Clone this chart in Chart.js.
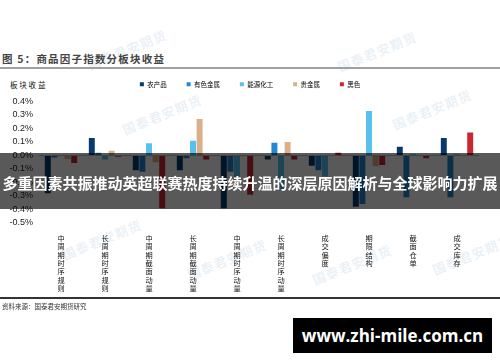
<!DOCTYPE html>
<html><head><meta charset="utf-8">
<script src="https://cdn.jsdelivr.net/npm/chart.js@4.4.1/dist/chart.umd.min.js"></script>
<style>
html,body{margin:0;padding:0;background:#fff;width:500px;height:362px;overflow:hidden;}
body{position:relative;font-family:"Noto Sans CJK SC","Noto Sans",sans-serif;}
.wm{position:absolute;font-size:13px;font-weight:bold;color:rgba(120,160,200,0.16);transform:rotate(-22deg);white-space:nowrap;letter-spacing:1px;}
#title{position:absolute;left:2px;top:51px;font-size:10.5px;font-weight:bold;color:#444;letter-spacing:1.2px;white-space:nowrap;}
#rule{position:absolute;left:0;top:67px;width:500px;height:2px;background:#a0a0a0;}
#ytitle{position:absolute;left:10px;top:79px;font-size:7.5px;letter-spacing:1.8px;color:#111;white-space:nowrap;}
#wrap{position:absolute;left:0;top:61px;width:500px;height:239px;}
#bottomrule{position:absolute;left:0;top:297px;width:500px;height:2px;background:#333;}
#source{position:absolute;left:2px;top:301px;font-size:6.5px;color:#333;white-space:nowrap;}
#band{position:absolute;left:0;top:153px;width:500px;height:56px;background:rgba(0,0,0,0.65);}
#bandtext{position:absolute;left:0;top:174px;width:500px;text-align:center;font-size:15px;font-weight:bold;color:#fff;white-space:nowrap;line-height:18px;}
#site{position:absolute;left:293px;top:318px;width:199px;height:35px;background:#000;color:#fff;font-family:"Open Sans",sans-serif;font-weight:bold;font-size:17px;line-height:35px;text-align:center;}
</style></head>
<body>
<div class="wm" style="left:85px;top:40px">国泰君安期货</div>
<div class="wm" style="left:335px;top:42px">国泰君安期货</div>
<div class="wm" style="left:120px;top:105px">国泰君安期货</div>
<div class="wm" style="left:390px;top:100px">国泰君安期货</div>
<div class="wm" style="left:60px;top:230px">国泰君安期货</div>
<div class="wm" style="left:185px;top:250px">国泰君安期货</div>
<div class="wm" style="left:310px;top:255px">国泰君安期货</div>
<div class="wm" style="left:430px;top:245px">国泰君安期货</div>
<div id="title">图 5：商品因子指数分板块收益</div>
<div id="rule"></div>
<div id="ytitle">板块收益</div>
<div id="wrap"><canvas id="c"></canvas></div>
<div id="bottomrule"></div>
<div id="source">资料来源：国泰君安期货研究</div>
<div id="band"></div>
<div id="bandtext">多重因素共振推动英超联赛热度持续升温的深层原因解析与全球影响力扩展</div>
<div id="site">www.zhi-mile.com.cn</div>
<script>
const categories = ["中周期时序规则","长周期时序规则","中周期截面动量","长周期截面动量","中周期时序动量","长周期时序动量","成交偏度","期限结构","截面仓单","成交库存"];
const seriesNames = ["农产品","有色金属","能源化工","贵金属","黑色"];
const agri     = [-0.28, 0.13, -0.11, -0.11, -0.39, -0.03, -0.075, -0.38, 0.065, 0.13];
const metals   = [-0.015, 0.02, -0.12, -0.02, -0.12, 0.095, -0.11, -0.36, -0.31, -0.31];
const energy   = [0.0, -0.03, 0.09, 0.11, -0.16, -0.25, -0.155, 0.33, 0.01, 0.01];
const precious = [-0.025, 0.035, -0.05, 0.27, -0.005, 0.10, 0.0, -0.08, 0.0, 0.0];
const ferrous  = [-0.055, -0.01, -0.39, -0.03, -0.29, -0.03, 0.02, -0.07, -0.02, 0.17];
const yTicks = [-0.5, -0.4, -0.3, -0.2, -0.1, 0.0, 0.1, 0.2, 0.3, 0.4];
const colors = ["#073b6f", "#2387d2", "#56c1f0", "#d9b08a", "#c8282e"];

const cjk = '"Noto Sans CJK SC", sans-serif';
const values = [agri, metals, energy, precious, ferrous];
const datasets = seriesNames.map((n, i) => ({
  label: n, data: values[i], backgroundColor: colors[i], borderWidth: 0,
  categoryPercentage: 0.75, barPercentage: 0.9
}));

const legendSpacer = {
  id: 'legendSpacer',
  beforeInit(chart) {
    const lg = chart.legend;
    if (!lg) return;
    const fit = lg.fit;
    lg.fit = function () { fit.call(this); this.height += 4; };
  }
};

new Chart(document.getElementById('c'), {
  type: 'bar',
  data: { labels: categories.map(s => s.split('')), datasets },
  plugins: [legendSpacer],
  options: {
    responsive: true, maintainAspectRatio: false, animation: false,
    layout: { padding: 0 },
    plugins: {
      legend: {
        position: 'top',
        labels: { boxWidth: 4, boxHeight: 4, padding: 20, color: '#000',
          font: { size: 6.5, family: cjk } }
      },
      tooltip: { enabled: false }
    },
    scales: {
      x: {
        grid: { display: false }, border: { display: false },
        ticks: { maxRotation: 0, minRotation: 0, autoSkip: false, padding: 3, color: '#111',
          font: { size: 7.2, family: cjk, lineHeight: 1.16 } },
        afterFit(s) { s.height = 77; }
      },
      y: {
        min: -0.5, max: 0.4,
        afterBuildTicks(s) { s.ticks = yTicks.map(v => ({ value: v })); },
        grid: {
          drawTicks: false,
          color: ctx => (ctx.tick && Math.abs(ctx.tick.value) < 1e-9) ? '#bdbdbd' : 'rgba(0,0,0,0)',
          lineWidth: 1
        },
        border: { display: false },
        ticks: { autoSkip: false, padding: 6, color: '#222', font: { size: 9, family: '"Liberation Sans", Arial, sans-serif' },
          callback: v => v.toFixed(1) + '%' },
        afterFit(s) { s.width = 39; }
      },
      yr: {
        position: 'right', display: true,
        grid: { display: false }, border: { display: false },
        ticks: { display: false },
        afterFit(s) { s.width = 21; }
      }
    }
  }
});
</script>
</body></html>
